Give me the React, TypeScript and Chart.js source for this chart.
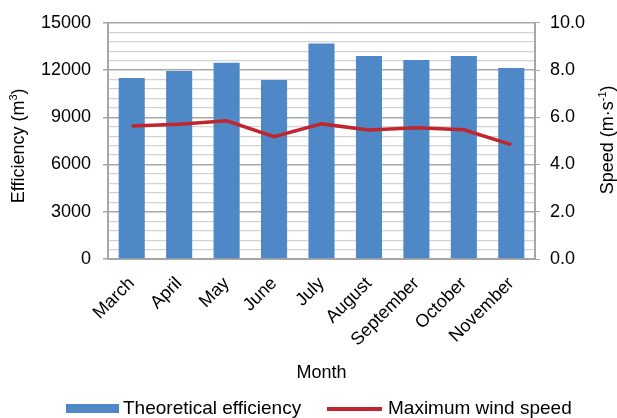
import React, { useEffect, useRef } from "react";
import { Chart, registerables } from "chart.js";

Chart.register(...registerables);

const months = ["March", "April", "May", "June", "July", "August", "September", "October", "November"];
const efficiency = [11500, 11940, 12470, 11370, 13690, 12890, 12640, 12890, 12130];
const windSpeed = [5.63, 5.7, 5.85, 5.18, 5.72, 5.46, 5.56, 5.47, 4.84];
const leftTicks = [0, 3000, 6000, 9000, 12000, 15000];
const rightTicks = [0, 2, 4, 6, 8, 10];

const FONT = '"Liberation Sans", Arial, sans-serif';
const BAR = "#4F88C6";
const LINE = "#C0262D";
const AXIS = "#A6A6A6";

type Part = { t: string; sup?: boolean };

function drawRich(ctx: CanvasRenderingContext2D, cx: number, cy: number, parts: Part[], size: number, rotate: boolean) {
  ctx.save();
  ctx.translate(cx, cy);
  if (rotate) ctx.rotate(-Math.PI / 2);
  const supSize = Math.round(size * 0.62);
  let total = 0;
  for (const p of parts) {
    ctx.font = `${p.sup ? supSize : size}px ${FONT}`;
    total += ctx.measureText(p.t).width;
  }
  let x = -total / 2;
  const base = size * 0.36;
  ctx.fillStyle = "#000";
  ctx.textBaseline = "alphabetic";
  ctx.textAlign = "left";
  for (const p of parts) {
    ctx.font = `${p.sup ? supSize : size}px ${FONT}`;
    ctx.fillText(p.t, x, p.sup ? base - size * 0.4 : base);
    x += ctx.measureText(p.t).width;
  }
  ctx.restore();
}

const decorPlugin = {
  id: "decor",
  afterDraw(chart: any) {
    const ctx = chart.ctx as CanvasRenderingContext2D;
    const ca = chart.chartArea;
    const midY = (ca.top + ca.bottom) / 2;
    drawRich(ctx, 18, midY + 5, [{ t: "Efficiency (m" }, { t: "3", sup: true }, { t: ")" }], 18, true);
    drawRich(ctx, 607, midY - 1, [{ t: "Speed (m·s" }, { t: "-1", sup: true }, { t: ")" }], 18, true);
    // legend
    ctx.save();
    ctx.fillStyle = BAR;
    ctx.fillRect(66, 404, 53, 9);
    ctx.strokeStyle = LINE;
    ctx.lineWidth = 4;
    ctx.beginPath();
    ctx.moveTo(327, 409);
    ctx.lineTo(382, 409);
    ctx.stroke();
    ctx.fillStyle = "#000";
    ctx.font = `19px ${FONT}`;
    ctx.textBaseline = "alphabetic";
    ctx.textAlign = "left";
    ctx.fillText("Theoretical efficiency", 123, 414);
    ctx.fillText("Maximum wind speed", 388, 414);
    ctx.restore();
  },
};

export default function App() {
  const ref = useRef<HTMLCanvasElement | null>(null);
  useEffect(() => {
    if (!ref.current) return;
    Chart.defaults.font.family = FONT;
    Chart.defaults.color = "#000";
    const chart = new Chart(ref.current, {
      type: "bar",
      data: {
        labels: months,
        datasets: [
          {
            type: "line",
            label: "Maximum wind speed",
            data: windSpeed,
            yAxisID: "y1",
            borderColor: LINE,
            backgroundColor: LINE,
            borderWidth: 3.5,
            pointRadius: 0,
            tension: 0,
            order: 0,
          } as any,
          {
            type: "bar",
            label: "Theoretical efficiency",
            data: efficiency,
            yAxisID: "y",
            backgroundColor: BAR,
            barPercentage: 0.55,
            categoryPercentage: 1,
            order: 1,
          },
        ],
      },
      options: {
        responsive: false,
        animation: false,
        devicePixelRatio: 1,
        layout: { padding: { top: 22, left: 0, right: 0, bottom: 30 } },
        plugins: { legend: { display: false }, tooltip: { enabled: false } },
        scales: {
          x: {
            grid: { display: false, drawTicks: false },
            border: { color: AXIS, width: 2 },
            ticks: {
              minRotation: 45,
              maxRotation: 45,
              autoSkip: false,
              padding: 14,
              labelOffset: 0,
              font: { size: 18 },
              color: "#000",
            },
            title: { display: true, text: "Month", font: { size: 18 }, color: "#000", padding: { top: 4, bottom: 4 } },
            afterFit: (s: any) => {
              s.height = 418 - 30 - 259;
            },
          },
          y: {
            position: "left",
            min: 0,
            max: 15000,
            afterBuildTicks: (s: any) => {
              const arr: any[] = [];
              for (let v = 0; v <= 15000; v += 600) arr.push({ value: v });
              s.ticks = arr;
            },
            ticks: {
              autoSkip: false,
              padding: 12,
              font: { size: 18 },
              color: "#000",
              callback: (v: any) => (leftTicks.includes(Number(v)) ? String(v) : ""),
            },
            grid: {
              color: (c: any) => (c.tick && c.tick.value % 3000 === 0 ? "#A8A8A8" : "#D3D3D3"),
              lineWidth: (c: any) => (c.tick && c.tick.value % 3000 === 0 ? 1.5 : 1.2),
              tickColor: (c: any) => (c.tick && c.tick.value % 3000 === 0 ? AXIS : "rgba(0,0,0,0)"),
              tickLength: 5,
            },
            border: { color: AXIS, width: 2 },
            afterFit: (s: any) => {
              s.width = 108;
            },
          },
          y1: {
            position: "right",
            min: 0,
            max: 10,
            afterBuildTicks: (s: any) => {
              s.ticks = rightTicks.map((v) => ({ value: v }));
            },
            ticks: {
              padding: 10,
              font: { size: 18 },
              color: "#000",
              callback: (v: any) => Number(v).toFixed(1),
            },
            grid: { drawOnChartArea: false, tickLength: 5, color: AXIS },
            border: { color: AXIS, width: 2 },
            afterFit: (s: any) => {
              s.width = 617 - 535;
            },
          },
        },
      },
      plugins: [decorPlugin],
    });
    return () => chart.destroy();
  }, []);
  return (
    <div style={{ position: "absolute", left: 0, top: 0, width: 617, height: 418, background: "#fff" }}>
      <canvas ref={ref} width={617} height={418} style={{ display: "block" }} />
    </div>
  );
}
